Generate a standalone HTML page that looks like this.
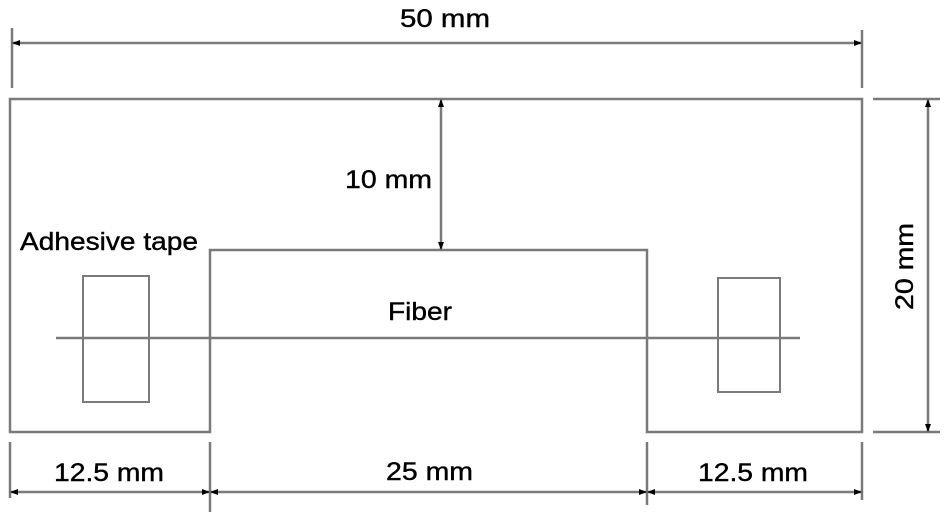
<!DOCTYPE html>
<html><head><style>body{margin:0;background:#fff}svg{display:block}text{font-family:"Liberation Sans",Arial,sans-serif;font-size:25px;fill:#000;stroke:#000;stroke-width:0.4}</style></head>
<body>
<svg width="945" height="515" viewBox="0 0 945 515" xmlns="http://www.w3.org/2000/svg">
<defs>
<marker id="a" markerWidth="8" markerHeight="8" refX="7" refY="4" orient="auto" markerUnits="userSpaceOnUse"><path d="M0,1 L8,4 L0,7 Z" fill="#000"/></marker>
<marker id="b" markerWidth="8" markerHeight="8" refX="1" refY="4" orient="auto" markerUnits="userSpaceOnUse"><path d="M8,1 L0,4 L8,7 Z" fill="#000"/></marker>
</defs>
<g stroke="#7a7a7a" stroke-width="2.5" fill="none">
<line x1="12" y1="28" x2="12" y2="88"/>
<line x1="862" y1="30" x2="862" y2="88"/>
<line x1="13" y1="43" x2="861" y2="43" marker-start="url(#b)" marker-end="url(#a)"/>
<path d="M10,99 L862,99 L862,432 L647,432 L647,250 L210,250 L210,432 L10,432 Z"/>
<line x1="873" y1="99" x2="940" y2="99"/>
<line x1="873" y1="432" x2="940" y2="432"/>
<line x1="928" y1="100" x2="928" y2="431" marker-start="url(#b)" marker-end="url(#a)"/>
<line x1="441" y1="100" x2="441" y2="249" marker-start="url(#b)" marker-end="url(#a)"/>
<line x1="56" y1="338" x2="800" y2="338"/>
<rect x="83" y="276" width="66" height="126" stroke-width="2"/>
<rect x="718" y="278" width="62" height="114" stroke-width="2"/>
<line x1="10" y1="442" x2="10" y2="498"/>
<line x1="210" y1="442" x2="210" y2="512"/>
<line x1="647" y1="442" x2="647" y2="505"/>
<line x1="862" y1="442" x2="862" y2="500"/>
<line x1="11" y1="492" x2="209" y2="492" marker-start="url(#b)" marker-end="url(#a)"/>
<line x1="211" y1="492" x2="646" y2="492" marker-start="url(#b)" marker-end="url(#a)"/>
<line x1="648" y1="492" x2="861" y2="492" marker-start="url(#b)" marker-end="url(#a)"/>
</g>
<text x="400" y="27" textLength="90" lengthAdjust="spacingAndGlyphs">50 mm</text>
<text x="345" y="188" textLength="87" lengthAdjust="spacingAndGlyphs">10 mm</text>
<text x="20" y="250" textLength="178" lengthAdjust="spacingAndGlyphs">Adhesive tape</text>
<text x="388" y="320" textLength="64" lengthAdjust="spacingAndGlyphs">Fiber</text>
<text x="54" y="481" textLength="110" lengthAdjust="spacingAndGlyphs">12.5 mm</text>
<text x="386" y="480" textLength="87" lengthAdjust="spacingAndGlyphs">25 mm</text>
<text x="698" y="481" textLength="110" lengthAdjust="spacingAndGlyphs">12.5 mm</text>
<text transform="translate(913,310) rotate(-90)" textLength="87" lengthAdjust="spacingAndGlyphs">20 mm</text>
</svg>
</body></html>
